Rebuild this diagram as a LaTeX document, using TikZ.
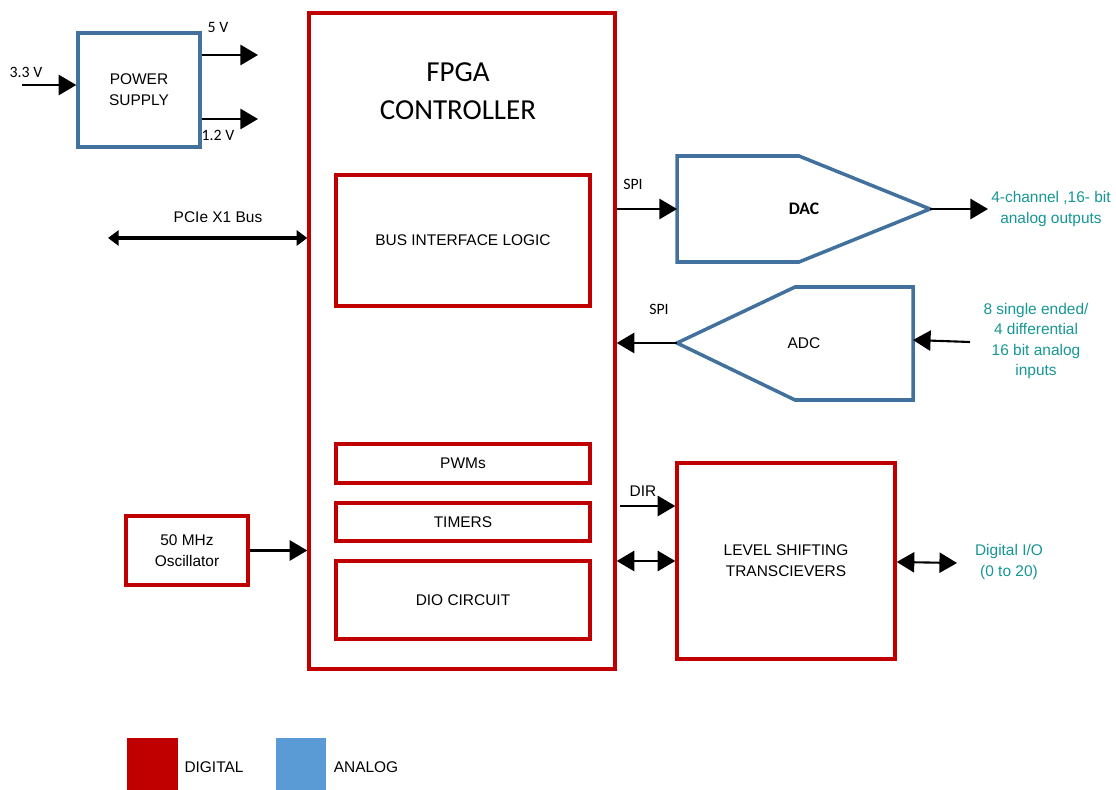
\documentclass[tikz,border=0pt]{standalone}
\usepackage{fontspec}
\setmainfont{Liberation Sans}
\newfontfamily\calfont{Carlito}
\usetikzlibrary{arrows.meta}
\definecolor{digred}{RGB}{192,0,0}
\definecolor{anablue}{RGB}{65,113,156}
\definecolor{legblue}{RGB}{91,155,213}
\definecolor{outteal}{RGB}{23,150,150}
\begin{document}
\begin{tikzpicture}[x=0.02cm,y=-0.02cm,
  font=\fontsize{8.8}{12}\selectfont,
  digbox/.style={draw=digred, line width=2pt, align=center, inner sep=0pt},
  anabox/.style={draw=anablue, line width=2pt, align=center, inner sep=0pt},
  sig/.style={line width=1.2pt, -{Triangle[length=10pt,width=11.5pt]}},
  bisig/.style={line width=1.2pt, {Triangle[length=10pt,width=11.5pt]}-{Triangle[length=10pt,width=11.5pt]}},
  lbl/.style={font=\calfont\fontsize{9}{10}\selectfont},
  outlbl/.style={text=outteal, align=center, font=\fontsize{8.8}{11.5}\selectfont}]
\useasboundingbox (0,0) rectangle (1116,790);

% power supply
\node[anabox, minimum width=2.44cm, minimum height=2.28cm] (ps) at (139,90) {POWER\\SUPPLY};
\coordinate (vin) at (22,85);
\coordinate (ps5) at (258,55);
\coordinate (ps12) at (258,119);
\draw[sig] (vin) -- (ps.west |- vin);
\draw[sig] (ps.east |- ps5) -- (ps5);
\draw[sig] (ps.east |- ps12) -- (ps12);
\node[lbl] (l33) at (26,72) {3.3 V};
\node[lbl] (l5) at (218,27) {5 V};
\node[lbl] (l12) at (218,135) {1.2 V};

% fpga
\node[digbox, minimum width=6.12cm, minimum height=13.12cm] (fpga) at (462,341) {};
\node[font=\calfont\fontsize{16.5}{21.5}\selectfont, align=center] (fpgatitle) at (458,91) {FPGA\\CONTROLLER};
\node[digbox, minimum width=5.08cm, minimum height=2.62cm] (bil) at (463,240.5) {BUS INTERFACE LOGIC};
\node[digbox, minimum width=5.08cm, minimum height=0.78cm] (pwm) at (463,463.5) {PWMs};
\node[digbox, minimum width=5.08cm, minimum height=0.76cm] (tmr) at (463,522) {TIMERS};
\node[digbox, minimum width=5.08cm, minimum height=1.56cm] (dio) at (463,600) {DIO CIRCUIT};

% pcie
\coordinate (pcie) at (108,238);
\draw[line width=2pt, {Triangle[length=6pt,width=8.5pt]}-{Triangle[length=6pt,width=8.5pt]}] (pcie) -- (fpga.west |- pcie);
\node (lpcie) at (218,217) {PCIe X1 Bus};

% oscillator
\node[digbox, minimum width=2.44cm, minimum height=1.38cm] (osc) at (187,550.5) {50 MHz\\Oscillator};
\draw[sig] (osc.east) -- (fpga.west |- osc.east);

% dac
\coordinate (dacin) at (677,209);
\coordinate (dacout) at (930,209);
\draw[anablue, line width=2pt] (677,156) -- (799,156) -- (dacout) -- (799,262) -- (677,262) -- cycle;
\node[font=\calfont\bfseries\fontsize{10}{12}\selectfont] (dac) at (804,209) {DAC};
\draw[sig] (fpga.east |- dacin) -- (dacin);
\node[lbl] (lspi1) at (633,184) {SPI};
\coordinate (aout) at (988,209);
\draw[sig] (dacout) -- (aout);
\node[outlbl] (laout) at (1051,209) {4-channel ,16- bit\\analog outputs};

% adc
\coordinate (adcout) at (677,343);
\coordinate (adcin) at (913,340);
\draw[anablue, line width=2pt] (adcout) -- (795,287) -- (913,287) -- (913,400) -- (795,400) -- cycle;
\node (adc) at (804,343) {ADC};
\draw[sig] (adcout) -- (fpga.east |- adcout);
\node[lbl] (lspi2) at (659,309) {SPI};
\coordinate (ain) at (970,342);
\draw[sig] (ain) -- (adcin);
\node[outlbl] (lain) at (1036,341) {8 single ended/\\4 differential\\16 bit analog\\inputs};

% level shifting
\node[digbox, minimum width=4.36cm, minimum height=3.92cm] (lvl) at (786,561) {LEVEL SHIFTING\\TRANSCIEVERS};
\coordinate (dir) at (620,506);
\draw[sig] (dir) -- (lvl.west |- dir);
\node (ldir) at (643,491) {DIR};
\draw[bisig] (fpga.east |- 0,561) -- (lvl.west |- 0,561);
\coordinate (dio2) at (957,563);
\draw[bisig] (lvl.east |- 0,562) -- (dio2);
\node[outlbl, font=\fontsize{8.8}{12.5}\selectfont] (ldio) at (1009,562) {Digital I/O\\(0 to 20)};

% legend
\node[fill=digred, minimum width=1.02cm, minimum height=1.04cm, inner sep=0pt] (legdig) at (152.5,764) {};
\node (ldig) at (214,767) {DIGITAL};
\node[fill=legblue, minimum width=1.0cm, minimum height=1.04cm, inner sep=0pt] (legana) at (301,764) {};
\node (lana) at (366,767) {ANALOG};
\end{tikzpicture}
\end{document}
